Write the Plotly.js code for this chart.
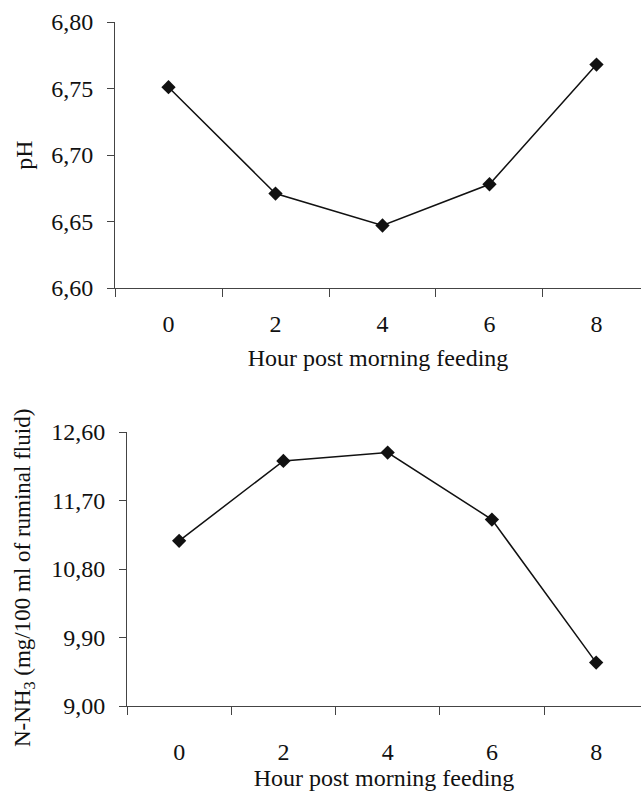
<!DOCTYPE html>
<html>
<head>
<meta charset="utf-8">
<script src="https://cdn.plot.ly/plotly-3.0.1.min.js"></script>
<style>html,body{margin:0;padding:0;background:#fff;}#chart{width:641px;height:797px;}</style>
</head>
<body>
<div id="chart"></div>
<script>
const hours = ["0", "2", "4", "6", "8"];
const phValues = [6.751, 6.671, 6.647, 6.678, 6.768];
const nh3Values = [11.17, 12.22, 12.33, 11.45, 9.57];
const xTitle = "Hour post morning feeding";
const phTitle = "pH";
const nh3Title = "N-NH<sub>3</sub> (mg/100 ml of ruminal fluid)";

const FONT = "Liberation Serif";
const FS = 24;
const line = {color: "#111", width: 1.5};
const marker = {symbol: "diamond", size: 11, color: "#111"};

const data = [
  {x: hours, y: phValues, type: "scatter", mode: "lines+markers", line: line, marker: marker, xaxis: "x", yaxis: "y", cliponaxis: false},
  {x: hours, y: nh3Values, type: "scatter", mode: "lines+markers", line: line, marker: marker, xaxis: "x2", yaxis: "y2", cliponaxis: false}
];

const xCommon = {
  type: "category", tickson: "boundaries", ticks: "outside", ticklen: 8, tickcolor: "#444", tickwidth: 1,
  showline: true, linecolor: "#444", linewidth: 1, showgrid: false, zeroline: false,
  tickfont: {family: FONT, size: FS, color: "#111"},
  automargin: false, fixedrange: true
};
const yCommon = {
  ticks: "outside", ticklen: 7, tickcolor: "#444", tickwidth: 1, showline: true, linecolor: "#444", linewidth: 1,
  showgrid: false, zeroline: false, tickformat: ".2f",
  tickfont: {family: FONT, size: FS, color: "#111"}, automargin: false
};

const layout = {
  width: 641, height: 797,
  margin: {l: 0, r: 0, t: 0, b: 0},
  paper_bgcolor: "#fff", plot_bgcolor: "#fff",
  separators: ",.",
  showlegend: false,
  font: {family: FONT, size: FS, color: "#111"},
  xaxis: Object.assign({}, xCommon, {domain: [115/641, 1], range: [-0.5, 4.416], anchor: "y", ticklabelstandoff: 14,
    title: {text: xTitle, font: {family: FONT, size: 24, color: "#111"}, standoff: 13}}),
  yaxis: Object.assign({}, yCommon, {domain: [1 - 288/797, 1 - 22/797], range: [6.60, 6.80], dtick: 0.05, tick0: 6.6, anchor: "x", ticklabelstandoff: 9,
    title: {text: phTitle, font: {family: FONT, size: 24, color: "#111"}, standoff: 11}}),
  xaxis2: Object.assign({}, xCommon, {domain: [127/641, 1], range: [-0.5, 4.43], anchor: "y2", ticklabelstandoff: 24,
    title: {text: xTitle, font: {family: FONT, size: 24, color: "#111"}, standoff: 3}}),
  yaxis2: Object.assign({}, yCommon, {domain: [1 - 706/797, 1 - 432/797], range: [9.0, 12.6], dtick: 0.9, tick0: 9.0, anchor: "x2", ticklabelstandoff: 9}),
  annotations: [{
    text: nh3Title, xref: "paper", yref: "paper", x: 24/641, y: 1 - 578/797,
    xanchor: "center", yanchor: "middle", textangle: -90, showarrow: false,
    font: {family: FONT, size: 23, color: "#111"}
  }]
};

Plotly.newPlot("chart", data, layout, {displayModeBar: false, staticPlot: true});
</script>
</body>
</html>
